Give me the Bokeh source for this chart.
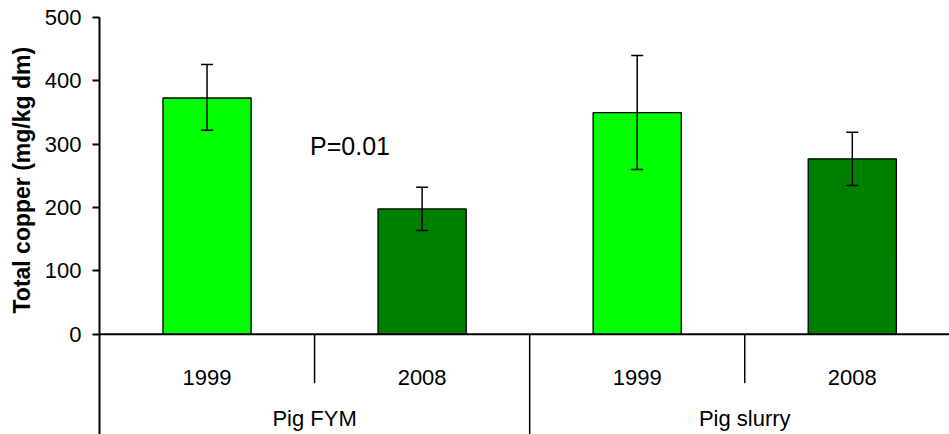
from bokeh.plotting import figure
from bokeh.models import ColumnDataSource, Whisker, TeeHead, FixedTicker, Label, Range1d, Span, Title
from bokeh.core.properties import value
from bokeh.embed import file_html
from bokeh.resources import INLINE

# ---- data ----
groups = ["Pig FYM", "Pig slurry"]
years = ["1999", "2008", "1999", "2008"]
totals = [373, 198, 350, 277]
err_low = [322, 164, 260, 235]
err_high = [426, 232, 440, 319]
colors = ["#00FF00", "#008000", "#00FF00", "#008000"]
y_ticks = [0, 100, 200, 300, 400, 500]
y_title = "Total copper (mg/kg dm)"
p_text = "P=0.01"

FONT = "Liberation Sans"
xs = list(range(1, len(totals) + 1))

src = ColumnDataSource(dict(x=xs, top=totals, lower=err_low, upper=err_high, color=colors))

p = figure(width=949, height=434, x_range=Range1d(0.5, 4.452), y_range=Range1d(-158, 500),
           output_backend="svg", toolbar_location=None, x_axis_location=None,
           min_border_left=99, min_border_right=0, min_border_top=17, min_border_bottom=0)
p.outline_line_color = None
p.xgrid.visible = False
p.ygrid.visible = False

yax = p.yaxis[0]
yax.ticker = FixedTicker(ticks=y_ticks)
yax.minor_tick_line_color = None
yax.major_tick_in = 0
yax.major_tick_out = 7
yax.major_tick_line_width = 2
yax.axis_line_width = 2
yax.major_label_standoff = 11
yax.major_label_text_font = FONT
yax.major_label_text_font_size = "22px"
yax.major_label_text_color = "black"

# y-axis title, starting near the foot of the 0..500 part of the axis
p.add_layout(Title(text=y_title, align="left", vertical_align="top", offset=121, standoff=10,
                   text_font=FONT, text_font_size="23px", text_font_style="bold",
                   text_color="black"), "left")

# zero line (category axis)
p.add_layout(Span(location=0, dimension="width", line_color="black", line_width=2))

p.vbar(x="x", top="top", bottom=0, width=0.41, source=src,
       fill_color="color", line_color="black", line_width=1.3)

p.add_layout(Whisker(base="x", upper="upper", lower="lower", source=src, level="overlay",
                     line_color="black", line_width=1.5,
                     upper_head=TeeHead(size=12, line_width=1.5, line_color="black"),
                     lower_head=TeeHead(size=12, line_width=1.5, line_color="black")))

p.add_layout(Label(x=1.479, y=298, text=p_text, text_font=FONT, text_font_size="25px",
                   text_color="black", text_baseline="alphabetic", text_align="left"))

# category separators and labels
n_per_group = len(years) // len(groups)
year_seps = [g * n_per_group + n_per_group / 2 + 0.5 for g in range(len(groups))]
group_seps = [g * n_per_group + 0.5 for g in range(1, len(groups) + 1)]
group_centers = [g * n_per_group + (n_per_group + 1) / 2 for g in range(len(groups))]

p.segment(x0=year_seps, x1=year_seps, y0=[0] * len(year_seps), y1=[-77] * len(year_seps),
          line_color="black", line_width=1.5)
p.segment(x0=group_seps, x1=group_seps, y0=[0] * len(group_seps), y1=[-158] * len(group_seps),
          line_color="black", line_width=1.5)

p.text(x=xs, y=[-68] * len(xs), text=years, text_font=value(FONT), text_font_size=value("22px"),
       text_align="center", text_baseline="alphabetic", text_color="black")
p.text(x=group_centers, y=[-133] * len(group_centers), text=groups, text_font=value(FONT),
       text_font_size=value("22px"), text_align="center", text_baseline="alphabetic",
       text_color="black")

open("out.html", "w").write(file_html(p, INLINE))
